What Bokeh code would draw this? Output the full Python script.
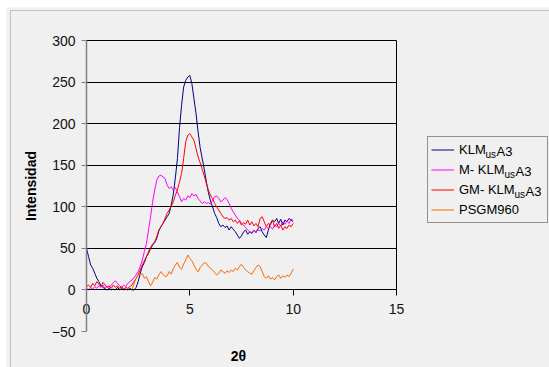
from bokeh.plotting import figure
from bokeh.models import (LinearAxis, FixedTicker, Range1d, Legend, LegendItem,
                          Label, BoxAnnotation, Grid)
from bokeh.embed import file_html
from bokeh.resources import INLINE

# ---------------- data ----------------
x_main = [round(i * 0.1, 1) for i in range(101)]

klm_usa3 = [50, 40, 30, 26, 20, 14, 10, 5, 3, 1,
            0, 2, 0, 1, 0, 3, 0, 2, 0, 1,
            0, 2, 0, 0, 3, 10, 20, 28, 33, 40,
            44, 50, 54, 57, 62, 71, 76, 80, 84, 88,
            92, 102, 115, 135, 158, 195, 222, 244, 252, 256,
            258, 248, 230, 212, 190, 171, 158, 145, 130, 117,
            107, 100, 92, 87, 80, 76, 78, 75, 77, 72,
            76, 73, 70, 66, 62, 65, 70, 72, 67, 70,
            68, 72, 69, 74, 76, 70, 66, 63, 72, 80,
            84, 82, 86, 80, 85, 78, 84, 82, 86, 84,
            82]

m_klm_usa3 = [2, 0, 3, 1, 4, 2, 5, 3, 6, 2,
              4, 3, 6, 9, 11, 8, 5, 3, 6, 4,
              8, 10, 12, 15, 18, 22, 28, 36, 46, 56,
              72, 88, 106, 120, 132, 137, 138, 136, 134, 126,
              122, 124, 120, 123, 118, 112, 106, 110, 108, 113,
              111, 116, 113, 115, 110, 107, 104, 106, 104, 105,
              103, 108, 112, 113, 110, 106, 108, 111, 109, 104,
              98, 94, 90, 86, 84, 80, 78, 75, 72, 70,
              69, 72, 70, 72, 71, 74, 72, 76, 74, 76,
              73, 78, 76, 80, 77, 82, 79, 83, 80, 85,
              84]

gm_klm_usa3 = [4, 6, 3, 8, 5, 10, 7, 4, 9, 6,
               3, 5, 2, 6, 3, 5, 2, 4, 1, 3,
               2, 4, 6, 10, 14, 18, 24, 30, 35, 40,
               46, 51, 55, 58, 64, 72, 76, 80, 86, 92,
               96, 101, 106, 114, 120, 130, 140, 158, 178, 186,
               188, 184, 180, 170, 160, 153, 145, 137, 128, 120,
               114, 110, 104, 100, 96, 92, 88, 86, 87, 84,
               86, 82, 84, 80, 83, 78, 81, 79, 84, 78,
               82, 77, 80, 76, 86, 88, 82, 76, 80, 78,
               84, 76, 80, 74, 78, 72, 76, 74, 78, 76,
               80]

x_psgm = [round(2.2 + i * 0.1, 1) for i in range(79)]
psgm960 = [0, 8, 14, 19, 17, 20, 14, 16,
           10, 5, 9, 15, 13, 18, 22, 19, 16, 17,
           22, 19, 26, 30, 33, 27, 25, 31, 36, 42,
           38, 35, 30, 25, 22, 27, 30, 33, 32, 28,
           26, 24, 21, 18, 20, 24, 22, 20, 23, 21,
           24, 22, 26, 24, 28, 31, 27, 24, 22, 20,
           19, 23, 27, 30, 28, 22, 16, 14, 17, 13,
           15, 12, 16, 18, 14, 17, 15, 18, 16, 20,
           25]

x_ticks = [0, 5, 10, 15]
y_ticks = [-50, 0, 50, 100, 150, 200, 250, 300]
grid_ticks = [0, 50, 100, 150, 200, 250, 300]

BG = "#f0f0f0"
FONT = "Liberation Sans"

# ---------------- layout (pixels inside the figure) ----------------
W, H = 543, 360
X0_PX, X15_PX = 80, 390      # where x = 0 and x = 15 fall
Y300_PX, YM50_PX = 33, 324   # where y = 300 and y = -50 fall (from top)
sx = (X15_PX - X0_PX) / 15.0
sy = (YM50_PX - Y300_PX) / 350.0
x_start = -X0_PX / sx
x_end = (W - X0_PX) / sx
y_end = 300 + Y300_PX / sy
y_start = -50 - (H - YM50_PX) / sy

p = figure(width=W, height=H, output_backend="svg", toolbar_location=None,
           x_range=Range1d(x_start, x_end), y_range=Range1d(y_start, y_end),
           x_axis_location=None, y_axis_location=None,
           min_border=0,
           background_fill_color=BG, border_fill_color=BG,
           outline_line_color=None)
p.margin = (7, 0, 0, 6)

# horizontal grid lines limited to 0..15
p.xgrid.visible = False
p.ygrid.visible = False
if "cross_bounds" in Grid.properties():
    g = Grid(dimension=1, ticker=FixedTicker(ticks=grid_ticks),
             grid_line_color="#000000", grid_line_width=1, cross_bounds=(0, 15))
    p.add_layout(g, "center")
else:
    for gv in grid_ticks[1:]:
        ga = LinearAxis(ticker=FixedTicker(ticks=[]), bounds=(0, 15), fixed_location=gv)
        ga.axis_line_color = "#000000"
        ga.major_tick_line_color = None
        ga.minor_tick_line_color = None
        p.add_layout(ga, "below")

# y axis at x = 0
yax = LinearAxis(ticker=FixedTicker(ticks=y_ticks), bounds=(-50, 300),
                 axis_label="Intensidad", fixed_location=0)
yax.axis_line_color = "#808080"
yax.axis_line_width = 1.5
yax.major_tick_line_color = "#808080"
yax.major_tick_out = 5
yax.major_tick_in = 0
yax.minor_tick_line_color = None
yax.major_label_text_font = FONT
yax.major_label_text_font_size = "14px"
yax.major_label_text_color = "#111111"
yax.major_label_standoff = 6
yax.axis_label_text_font = FONT
yax.axis_label_text_font_size = "14px"
yax.axis_label_text_font_style = "bold"
yax.axis_label_text_color = "#000000"
yax.axis_label_standoff = 10
p.add_layout(yax, "left")

# x axis crossing at y = 0
xax = LinearAxis(ticker=FixedTicker(ticks=x_ticks), bounds=(0, 15), fixed_location=0)
xax.axis_line_color = "#000000"
xax.major_tick_line_color = "#000000"
xax.major_tick_out = 6
xax.major_tick_in = 0
xax.minor_tick_line_color = None
xax.major_label_text_font = FONT
xax.major_label_text_font_size = "14px"
xax.major_label_text_color = "#111111"
xax.major_label_standoff = 8
p.add_layout(xax, "below")

# right border of plot area (0..300)
rax = LinearAxis(ticker=FixedTicker(ticks=[]), bounds=(0, 300), fixed_location=15)
rax.axis_line_color = "#000000"
rax.major_tick_line_color = None
rax.minor_tick_line_color = None
p.add_layout(rax, "right")

# series
r1 = p.line(x_main, klm_usa3, line_color="#000080", line_width=1)
r2 = p.line(x_main, m_klm_usa3, line_color="#ff00ff", line_width=1)
r3 = p.line(x_main, gm_klm_usa3, line_color="#ff0000", line_width=1)
r4 = p.line(x_psgm, psgm960, line_color="#ff6600", line_width=1)

legend = Legend(items=[LegendItem(label="KLM", renderers=[r1]),
                       LegendItem(label="M- KLM", renderers=[r2]),
                       LegendItem(label="GM- KLM", renderers=[r3]),
                       LegendItem(label="PSGM960", renderers=[r4])],
                location=(421, 144))
legend.background_fill_alpha = 0
legend.border_line_color = "#333333"
legend.border_line_width = 1
legend.padding = 3
legend.margin = 0
legend.spacing = 1
legend.glyph_width = 23
legend.glyph_height = 19
legend.label_height = 19
legend.label_width = 85
legend.label_standoff = 5
legend.label_text_font = FONT
legend.label_text_font_size = "13px"
legend.label_text_color = "#000000"
p.add_layout(legend, "center")

# subscript parts of legend labels
rows_y = [216.5, 196.5, 176.5]
sub_x = [479, 498, 508]
tail_x = [490, 509, 519]
for yy, sxx, tx in zip(rows_y, sub_x, tail_x):
    p.add_layout(Label(x=sxx, y=yy - 3, x_units="screen", y_units="screen", text="us",
                       text_font=FONT, text_font_size="10px", text_color="#000000",
                       text_baseline="middle"))
    p.add_layout(Label(x=tx, y=yy, x_units="screen", y_units="screen", text="A3",
                       text_font=FONT, text_font_size="13px", text_color="#000000",
                       text_baseline="middle"))

# x axis title
p.add_layout(Label(x=232, y=12, x_units="screen", y_units="screen", text="2θ",
                   text_font=FONT, text_font_size="14px", text_font_style="bold",
                   text_color="#000000", text_align="center", text_baseline="middle"))

# outer chart border
p.add_layout(BoxAnnotation(left=4, top=H - 3, right=W + 50, bottom=-50,
                           left_units="screen", right_units="screen",
                           top_units="screen", bottom_units="screen",
                           fill_alpha=0, line_color="#555555", line_width=1,
                           level="overlay"))

open("out.html", "w").write(file_html(p, INLINE))
